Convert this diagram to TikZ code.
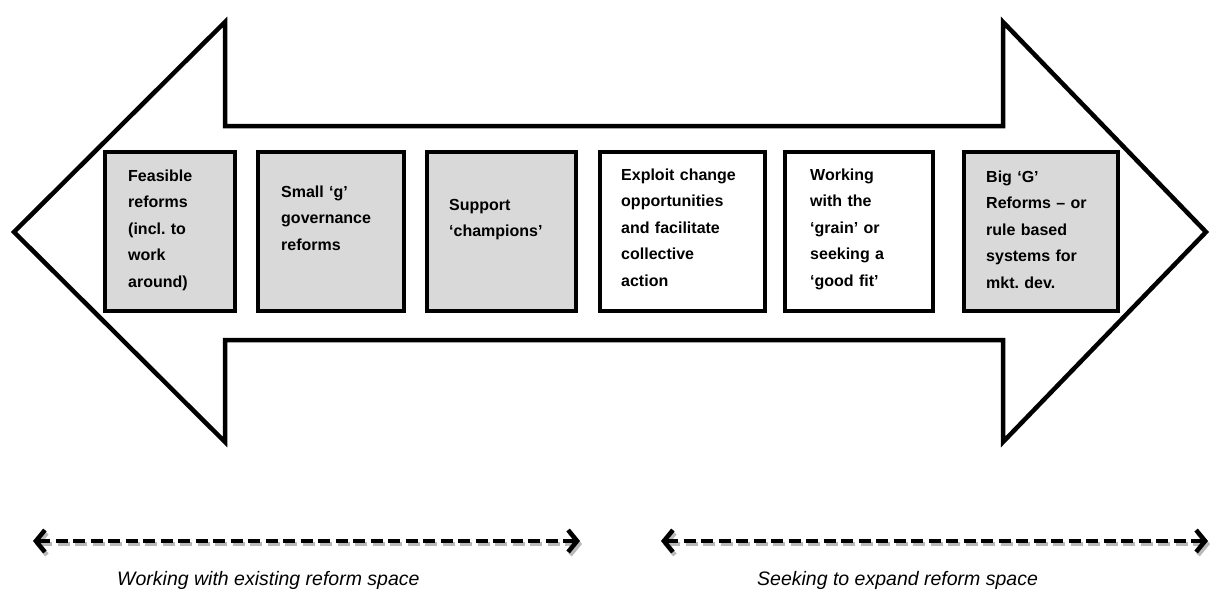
\documentclass[tikz,border=0pt]{standalone}
\usepackage{fontspec}
\setmainfont{Liberation Sans}
\usetikzlibrary{arrows.meta}
\definecolor{boxgray}{RGB}{217,217,217}
\definecolor{shadowgray}{RGB}{185,185,185}
\frenchspacing
\begin{document}
\begin{tikzpicture}[x=1pt,y=-1pt,
  bigarrow/.style={draw=black, line width=4.5pt, line join=miter, fill=white},
  stepbox/.style={draw=black, line width=4.5pt, inner sep=0pt, outer sep=0pt, minimum height=159pt},
  grayfill/.style={fill=boxgray},
  whitefill/.style={fill=white},
  steptext/.style={anchor=base west, inner sep=0pt, text width=150pt, align=left,
    font=\fontsize{16}{26.5}\selectfont\bfseries\frenchspacing},
  rangeline/.style={line width=3.8pt, dash pattern=on 12pt off 5.5pt,
    {Straight Barb[length=9pt,width=22pt,line width=4.5pt]}-{Straight Barb[length=9pt,width=22pt,line width=4.5pt]}},
  rangetext/.style={anchor=base west, inner sep=0pt, font=\fontsize{19.5}{22}\selectfont\itshape}
]
\useasboundingbox (0,0) rectangle (1210,592);

% big double arrow
\draw[bigarrow] (14,232) -- (225,22) -- (225,126) -- (1003,126) -- (1003,22)
  -- (1206,232) -- (1003,442) -- (1003,340) -- (225,340) -- (225,442) -- cycle;

% boxes
\node[stepbox, grayfill,  minimum width=130pt] (b1) at (170,231.5) {};
\node[stepbox, grayfill,  minimum width=146pt] (b2) at (331,231.5) {};
\node[stepbox, grayfill,  minimum width=149pt] (b3) at (501.5,231.5) {};
\node[stepbox, whitefill, minimum width=165pt] (b4) at (682.5,231.5) {};
\node[stepbox, whitefill, minimum width=148pt] (b5) at (859,231.5) {};
\node[stepbox, grayfill,  minimum width=154pt] (b6) at (1041,231.5) {};

% box texts
\node[steptext] (t1) at (128,181) {Feasible\\reforms\\(incl. to\\work\\around)};
\node[steptext] (t2) at (281,197) {Small ‘g’\\governance\\reforms};
\node[steptext] (t3) at (449,210) {Support\\‘champions’};
\node[steptext] (t4) at (621,180) {Exploit change\\opportunities\\and facilitate\\collective\\action};
\node[steptext] (t5) at (810,180) {Working\\with the\\‘grain’ or\\seeking a\\‘good fit’};
\node[steptext] (t6) at (986,182) {Big ‘G’\\Reforms – or\\rule based\\systems for\\mkt. dev.};

% range arrows
\coordinate (l1) at (33,541);
\coordinate (l2) at (580,541);
\coordinate (r1) at (661,541);
\coordinate (r2) at (1208,541);
\draw[rangeline, draw=shadowgray] ([shift={(2,3)}]l1) -- ([shift={(2,3)}]l2);
\draw[rangeline, draw=shadowgray] ([shift={(2,3)}]r1) -- ([shift={(2,3)}]r2);
\draw[rangeline] (l1) -- (l2);
\draw[rangeline] (r1) -- (r2);

\node[rangetext] (lt) at (117,585) {Working with existing reform space};
\node[rangetext] (rt) at (757,585) {Seeking to expand reform space};
\end{tikzpicture}
\end{document}
